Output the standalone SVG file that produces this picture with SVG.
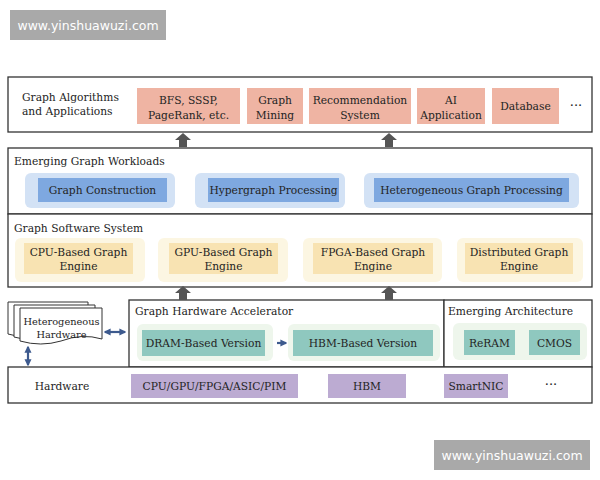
<svg xmlns="http://www.w3.org/2000/svg" width="600" height="480" viewBox="0 0 600 480">
<style>
text{font-family:"DejaVu Serif","Liberation Serif",serif;font-size:10.7px;fill:#242424}
.c{text-anchor:middle}
.dots{font-size:13px}
.sm{font-size:9.8px}
.layer{fill:#fff;stroke:#333;stroke-width:1.3}
.sal{fill:#efb4a3}
.bo{fill:#d3e2f5}
.bi{fill:#7ea8e0}
.yo{fill:#fcf6e2}
.yi{fill:#f8e3b2}
.go{fill:#eef6ec}
.gi{fill:#8fc8bf}
.pu{fill:#bcabd2}
.wm{fill:#a9a9a9}
.wt{font-family:"DejaVu Sans","Liberation Sans",sans-serif;font-size:12.5px;fill:#fff}
.ga{fill:#555}
.bl{stroke:#3d5a8e;stroke-width:2.2;fill:none}
</style>
<defs>
<marker id="ah" viewBox="0 0 10 10" refX="8" refY="5" markerWidth="3.2" markerHeight="3.2" orient="auto-start-reverse"><path d="M0,0 L10,5 L0,10 z" fill="#3d5a8e"/></marker>
</defs>
<rect width="600" height="480" fill="#fff"/>

<!-- watermarks -->
<g id="wm1"><rect class="wm" x="10" y="10" width="156" height="30"/><text class="wt c" x="88" y="30">www.yinshuawuzi.com</text></g>
<g id="wm2"><rect class="wm" x="434" y="440" width="156" height="30"/><text class="wt c" x="512" y="460">www.yinshuawuzi.com</text></g>

<!-- Layer 1 -->
<g id="layer-apps">
<rect class="layer" x="8" y="77" width="584" height="55"/>
<text x="22" y="101">Graph Algorithms</text>
<text x="22" y="115">and Applications</text>
<g id="bfs"><rect class="sal" x="137" y="88" width="103" height="36"/><text class="c" x="188.5" y="104">BFS, SSSP,</text><text class="c" x="188.5" y="119">PageRank, etc.</text></g>
<g id="mining"><rect class="sal" x="247" y="88" width="56" height="36"/><text class="c" x="275" y="104">Graph</text><text class="c" x="275" y="119">Mining</text></g>
<g id="recsys"><rect class="sal" x="309" y="88" width="102" height="36"/><text class="c" x="360" y="104">Recommendation</text><text class="c" x="360" y="119">System</text></g>
<g id="ai"><rect class="sal" x="417" y="88" width="68" height="36"/><text class="c" x="451" y="104">AI</text><text class="c" x="451" y="119">Application</text></g>
<g id="db"><rect class="sal" x="492" y="88" width="67" height="36"/><text class="c" x="525.5" y="110">Database</text></g>
<text class="c dots" x="576" y="110">···</text>
</g>

<!-- Layer 2 -->
<g id="layer-workloads">
<rect class="layer" x="8" y="148" width="584" height="66"/>
<text x="14" y="165">Emerging Graph Workloads</text>
<g id="gc"><rect class="bo" x="25" y="173" width="150" height="35" rx="6"/><rect class="bi" x="38" y="178" width="129" height="24"/><text class="c" x="102.5" y="194">Graph Construction</text></g>
<g id="hg"><rect class="bo" x="195" y="173" width="150" height="35" rx="6"/><rect class="bi" x="208" y="178" width="131" height="24"/><text class="c" x="273.5" y="194">Hypergraph Processing</text></g>
<g id="hgp"><rect class="bo" x="364" y="173" width="215" height="35" rx="6"/><rect class="bi" x="374" y="178" width="195" height="24"/><text class="c" x="471.5" y="194">Heterogeneous Graph Processing</text></g>
</g>

<!-- Layer 3 -->
<g id="layer-software">
<rect class="layer" x="8" y="214" width="584" height="73"/>
<text x="14" y="232">Graph Software System</text>
<g id="cpu"><rect class="yo" x="15" y="238" width="130" height="44" rx="6"/><rect class="yi" x="24" y="243" width="109" height="31"/><text class="c" x="78.5" y="256">CPU-Based Graph</text><text class="c" x="78.5" y="270">Engine</text></g>
<g id="gpu"><rect class="yo" x="158" y="238" width="130" height="44" rx="6"/><rect class="yi" x="169" y="243" width="109" height="31"/><text class="c" x="223.5" y="256">GPU-Based Graph</text><text class="c" x="223.5" y="270">Engine</text></g>
<g id="fpga"><rect class="yo" x="303" y="238" width="139" height="44" rx="6"/><rect class="yi" x="313" y="243" width="120" height="31"/><text class="c" x="373" y="256">FPGA-Based Graph</text><text class="c" x="373" y="270">Engine</text></g>
<g id="dist"><rect class="yo" x="457" y="238" width="126" height="44" rx="6"/><rect class="yi" x="465" y="243" width="108" height="31"/><text class="c" x="519" y="256">Distributed Graph</text><text class="c" x="519" y="270">Engine</text></g>
</g>

<!-- Layer 4 -->
<g id="layer-accel">
<rect class="layer" x="129" y="300" width="315" height="67"/>
<text x="135" y="315">Graph Hardware Accelerator</text>
<g id="dram"><rect class="go" x="137" y="324" width="136" height="37" rx="6"/><rect class="gi" x="142" y="330" width="123" height="26"/><text class="c" x="203.5" y="347">DRAM-Based Version</text></g>
<g id="hbmv"><rect class="go" x="288" y="324" width="152" height="37" rx="6"/><rect class="gi" x="293" y="330" width="140" height="26"/><text class="c" x="363" y="347">HBM-Based Version</text></g>
</g>
<g id="layer-emerging">
<rect class="layer" x="444" y="300" width="148" height="67"/>
<text x="448" y="315">Emerging Architecture</text>
<rect class="go" x="453" y="323" width="134" height="37" rx="6"/>
<g id="reram"><rect class="gi" x="464" y="330" width="51" height="25"/><text class="c" x="489.5" y="347">ReRAM</text></g>
<g id="cmos"><rect class="gi" x="529" y="330" width="51" height="25"/><text class="c" x="554.5" y="347">CMOS</text></g>
</g>

<!-- Heterogeneous hardware -->
<g id="hetero">
<path d="M8,302 H88 V332 Q68,326 48,334 Q28,340 8,334 Z" fill="#fff" stroke="#333" stroke-width="1"/>
<path d="M14,305 H95 V335 Q75,329 55,337 Q35,343 14,337 Z" fill="#fff" stroke="#333" stroke-width="1"/>
<path d="M20,308 H102 V339 Q82,333 61,341 Q41,347 20,341 Z" fill="#fff" stroke="#333" stroke-width="1"/>
<text class="c sm" x="61.5" y="325">Heterogeneous</text>
<text class="c sm" x="61.5" y="338">Hardware</text>
</g>

<!-- Hardware layer -->
<g id="layer-hw">
<rect class="layer" x="8" y="367" width="584" height="36"/>
<text class="c" x="62" y="390">Hardware</text>
<g id="cpugpu"><rect class="pu" x="131" y="374" width="167" height="24"/><text class="c" x="214.5" y="390">CPU/GPU/FPGA/ASIC/PIM</text></g>
<g id="hbm"><rect class="pu" x="328" y="374" width="78" height="24"/><text class="c" x="367" y="390">HBM</text></g>
<g id="nic"><rect class="pu" x="444" y="374" width="64" height="24"/><text class="c" x="476" y="390">SmartNIC</text></g>
<text class="c dots" x="551" y="389">···</text>
</g>

<!-- connectors -->
<g id="connectors">
<path class="ga" d="M179,147 V140 H175 L183,133 L191,140 H187 V147 Z"/>
<path class="ga" d="M385,147 V140 H381 L389,133 L397,140 H393 V147 Z"/>
<path class="ga" d="M179,300 V293 H175 L183,286 L191,293 H187 V300 Z"/>
<path class="ga" d="M385,300 V293 H381 L389,286 L397,293 H393 V300 Z"/>
<line class="bl" x1="105" y1="332" x2="125" y2="332" marker-start="url(#ah)" marker-end="url(#ah)"/>
<line class="bl" x1="28" y1="347" x2="28" y2="365" marker-start="url(#ah)" marker-end="url(#ah)"/>
<line class="bl" x1="277" y1="343" x2="286" y2="343" stroke-width="3" marker-end="url(#ah)"/>
</g>
</svg>
